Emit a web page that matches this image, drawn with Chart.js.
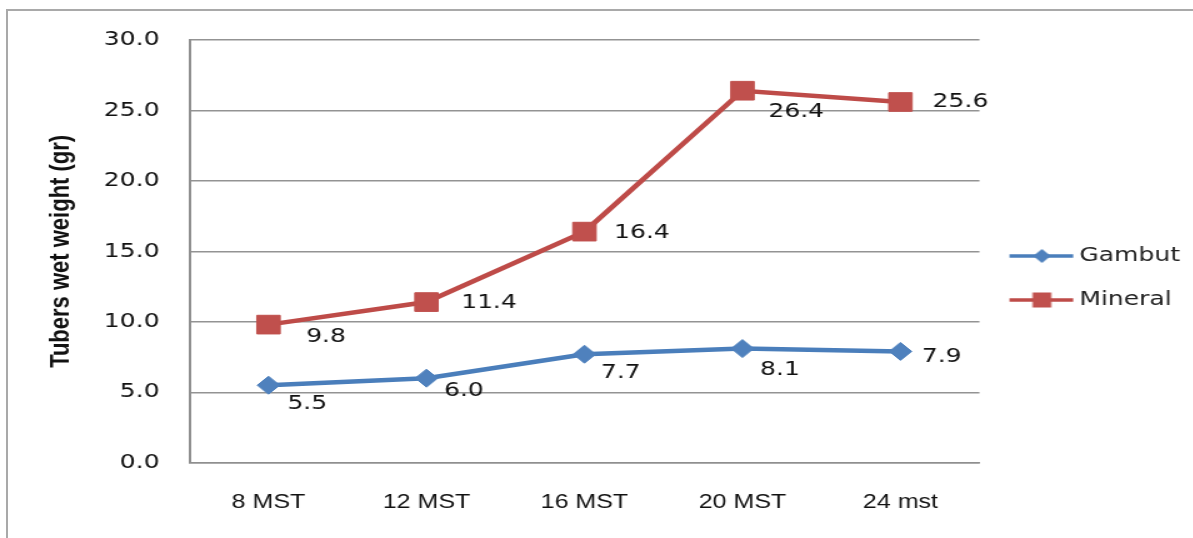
<!DOCTYPE html>
<html>
<head>
<meta charset="utf-8">
<script src="https://cdn.jsdelivr.net/npm/chart.js@4.4.1/dist/chart.umd.min.js"></script>
<style>
  html, body { margin: 0; padding: 0; background: #fff; overflow: hidden; }
  body { width: 1193px; height: 538px; position: relative; }
  #frame {
    position: absolute; left: 6px; top: 9px; width: 1300px; height: 700px;
    border: 2px solid #a9a9a9; box-sizing: border-box;
  }
  #wrap {
    position: absolute; left: 0; top: 0; width: 954px; height: 538px;
    transform: scaleX(1.25); transform-origin: 0 0;
  }
</style>
</head>
<body>
<div id="frame"></div>
<div id="wrap"><canvas id="chart"></canvas></div>
<script>
// Sampling times and tuber wet weight per growing medium
const categories = ['8 MST', '12 MST', '16 MST', '20 MST', '24 mst'];
const gambut = [5.5, 6.0, 7.7, 8.1, 7.9];
const mineral = [9.8, 11.4, 16.4, 26.4, 25.6];
const yTickValues = [0, 5, 10, 15, 20, 25, 30];

// Value label placement relative to each marker (px)
const gambutLabelOffsets = [[31, 19], [30, 13], [29, 19], [30, 21], [33, 5]];
const mineralLabelOffsets = [[46, 12], [50, 1], [46, 1], [43, 21], [48, 0]];

const BLUE_LINE = '#4A7EBB', BLUE_MARK = '#4F81BD';
const RED_LINE = '#BE4B48', RED_MARK = '#C0504D';
const TICK_FONT = "'DejaVu Sans', Verdana, sans-serif";

// Legend icons: a short line with the series marker in the middle
function legendIcon(lineColor, markColor, shape) {
  const c = document.createElement('canvas');
  c.width = 62; c.height = 22;
  const g = c.getContext('2d');
  const cx = 34;
  g.strokeStyle = lineColor; g.lineWidth = 3.5;
  g.beginPath(); g.moveTo(8, 11); g.lineTo(59, 11); g.stroke();
  g.fillStyle = markColor;
  if (shape === 'diamond') {
    g.beginPath();
    g.moveTo(cx, 4); g.lineTo(cx + 7, 11); g.lineTo(cx, 18); g.lineTo(cx - 7, 11);
    g.closePath(); g.fill();
  } else {
    g.fillRect(cx - 7.5, 3.5, 15, 15);
  }
  return c;
}
const legendIcons = [
  legendIcon(BLUE_LINE, BLUE_MARK, 'diamond'),
  legendIcon(RED_LINE, RED_MARK, 'square')
];

// Draws each point's value next to its marker
const valueLabels = {
  id: 'valueLabels',
  afterDatasetsDraw(chart) {
    const ctx = chart.ctx;
    const offsets = [gambutLabelOffsets, mineralLabelOffsets];
    ctx.save();
    ctx.font = '20px ' + TICK_FONT;
    ctx.fillStyle = '#111';
    ctx.textAlign = 'center';
    ctx.textBaseline = 'middle';
    chart.data.datasets.forEach((ds, di) => {
      const meta = chart.getDatasetMeta(di);
      meta.data.forEach((pt, i) => {
        const [dx, dy] = offsets[di][i];
        ctx.fillText(ds.data[i].toFixed(1), pt.x + dx, pt.y + dy);
      });
    });
    ctx.restore();
  }
};

new Chart(document.getElementById('chart'), {
  type: 'line',
  data: {
    labels: categories,
    datasets: [
      {
        label: 'Gambut',
        data: gambut,
        borderColor: BLUE_LINE,
        backgroundColor: BLUE_MARK,
        borderWidth: 4.5,
        tension: 0,
        pointStyle: 'rectRot',
        pointRadius: 9,
        pointHoverRadius: 9,
        pointBackgroundColor: BLUE_MARK,
        pointBorderColor: BLUE_MARK,
        pointBorderWidth: 1
      },
      {
        label: 'Mineral',
        data: mineral,
        borderColor: RED_LINE,
        backgroundColor: RED_MARK,
        borderWidth: 4.5,
        tension: 0,
        pointStyle: 'rect',
        pointRadius: 13.2,
        pointHoverRadius: 13.2,
        pointBackgroundColor: RED_MARK,
        pointBorderColor: RED_MARK,
        pointBorderWidth: 1
      }
    ]
  },
  options: {
    responsive: true,
    maintainAspectRatio: false,
    animation: false,
    events: [],
    layout: { padding: { left: 36, top: 40, right: 0, bottom: 22 } },
    plugins: {
      tooltip: { enabled: false },
      legend: {
        position: 'right',
        labels: {
          usePointStyle: true,
          pointStyleWidth: 46,
          padding: 24,
          color: '#222',
          font: { family: TICK_FONT, size: 20 },
          generateLabels(chart) {
            const items = Chart.defaults.plugins.legend.labels.generateLabels(chart);
            items.forEach((it, i) => { it.pointStyle = legendIcons[i]; });
            return items;
          }
        }
      }
    },
    scales: {
      x: {
        offset: true,
        grid: { display: false, drawTicks: false },
        border: { display: true, color: '#8f8f8f', width: 1.5 },
        ticks: {
          padding: 28,
          color: '#111',
          font: { family: "'Liberation Sans', Arial, sans-serif", size: 20 },
          maxRotation: 0
        },
        afterFit(scale) { scale.height = 53.3; }
      },
      y: {
        min: 0,
        max: 30,
        afterBuildTicks(scale) {
          scale.ticks = yTickValues.map(v => ({ value: v }));
        },
        grid: { color: '#939393', lineWidth: 1.5, drawTicks: false },
        border: { display: true, color: '#8f8f8f', width: 2 },
        ticks: {
          padding: 24,
          color: '#111',
          font: { family: TICK_FONT, size: 20 },
          callback: v => Number(v).toFixed(1)
        },
        title: {
          display: true,
          text: 'Tubers wet weight (gr)',
          color: '#111',
          font: { family: "'Liberation Sans', Arial, sans-serif", size: 22, weight: 'bold' },
          padding: { top: 0, bottom: 20 }
        },
        afterFit(scale) { scale.width = 115.6; }
      }
    }
  },
  plugins: [valueLabels]
});
</script>
</body>
</html>
